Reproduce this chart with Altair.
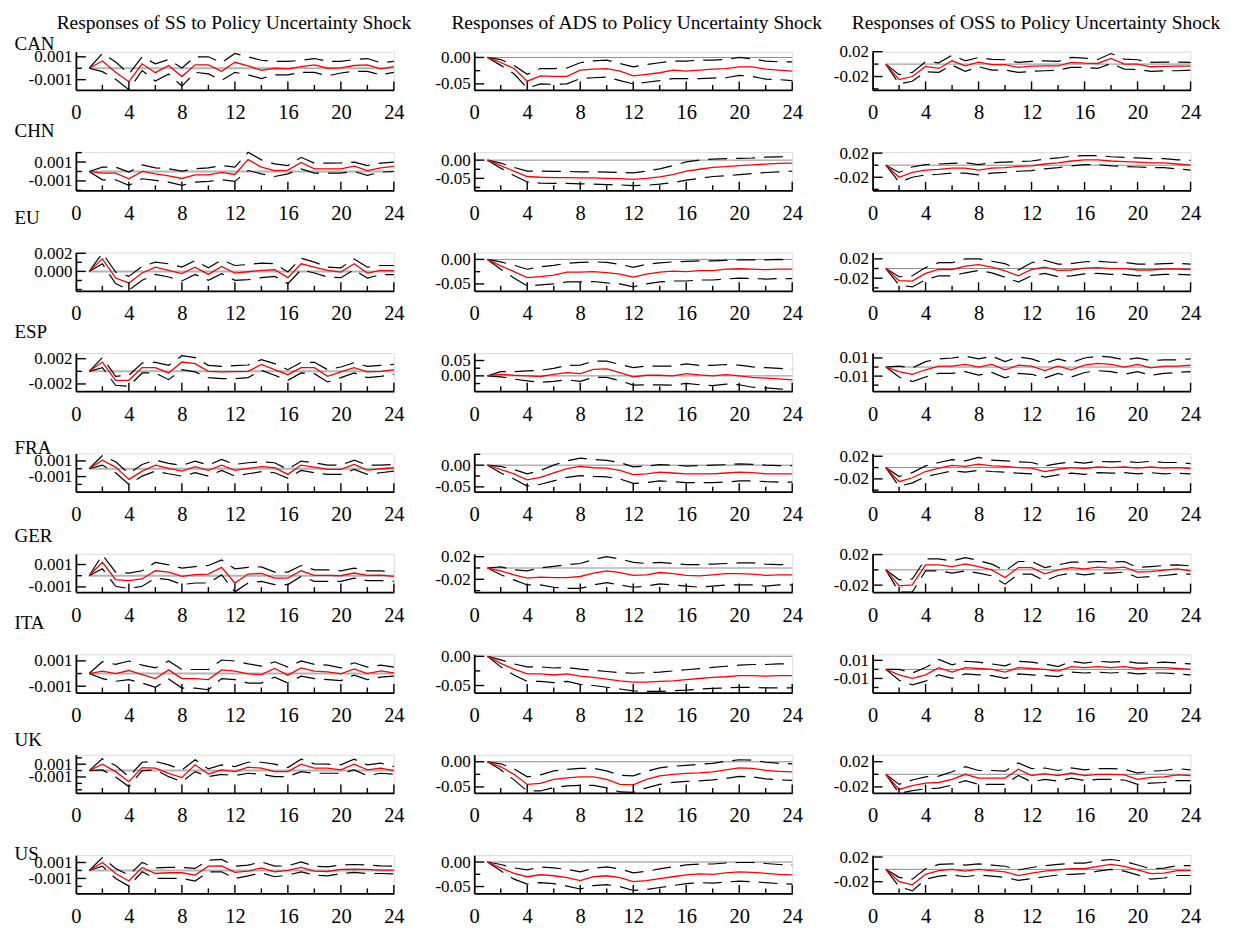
import altair as alt
import pandas as pd

FONT = "Liberation Serif"
HORIZON = list(range(1, 25))
COUNTRIES = ["CAN", "CHN", "EU", "ESP", "FRA", "GER", "ITA", "UK", "US"]
VARIABLES = ["SS", "ADS", "OSS"]
HEADERS = [
    "Responses of SS to Policy Uncertainty Shock",
    "Responses of ADS to Policy Uncertainty Shock",
    "Responses of OSS to Policy Uncertainty Shock",
]
# values below are written in these units (SS in 0.001, ADS and OSS in 0.01)
UNITS = [0.001, 0.01, 0.01]
FORMATS = [".3f", ".2f", ".2f"]

# ---------------- SS responses (x 0.001) ----------------
SS_CAN_IRF = [0, 0.64, -0.36, -1.18, 0.39, -0.39, 0.24, -0.73, 0.3, 0.3, -0.27, 0.52, 0.21, -0.18, 0, -0.06, 0.15, 0.3, 0, 0.03, 0.24, 0.3, -0.06, 0.15]
SS_CAN_UP = [0, 1.3, 0.55, -0.5, 1.0, 0.39, 0.76, 0.03, 1.0, 1.0, 0.48, 1.3, 1.0, 0.7, 0.6, 0.6, 0.7, 0.85, 0.6, 0.6, 0.76, 0.85, 0.48, 0.6]
SS_CAN_LO = [0, -0.3, -0.97, -1.88, -0.2, -1.12, -0.5, -1.58, -0.36, -0.5, -1.06, -0.36, -0.58, -0.9, -0.58, -0.58, -0.36, -0.36, -0.67, -0.42, -0.27, -0.27, -0.58, -0.36]

SS_CHN_IRF = [0, -0.18, -0.18, -0.77, 0, -0.25, -0.46, -0.74, -0.35, -0.35, -0.1, -0.32, 1.26, 0.46, 0.1, 0.14, 0.95, 0.28, 0.28, 0.28, 0.56, 0.1, 0.39, 0.53]
SS_CHN_UP = [0, 0.46, 0.46, -0.07, 0.7, 0.39, 0.28, 0.03, 0.28, 0.39, 0.63, 0.46, 2.03, 1.23, 0.8, 0.63, 1.5, 0.88, 0.88, 0.91, 0.98, 0.63, 0.88, 0.98]
SS_CHN_LO = [0, -0.88, -0.88, -1.47, -0.77, -0.95, -1.12, -1.47, -1.12, -1.05, -0.88, -1.05, 0.1, -0.25, -0.53, -0.25, 0.28, -0.18, -0.18, -0.18, 0, -0.42, -0.07, 0]

SS_EU_IRF = [0, 1.38, -0.73, -1.27, -0.18, 0.47, 0.11, -0.25, 0.47, -0.33, 0.55, -0.18, -0.04, 0.11, 0.18, -0.69, 0.84, 0.47, 0.11, -0.07, 0.84, -0.18, 0.11, 0.07]
SS_EU_UP = [0, 2.0, -0.07, -0.55, 0.55, 1.02, 0.84, 0.47, 1.2, 0.4, 1.27, 0.65, 0.76, 0.91, 0.84, -0.07, 1.45, 1.02, 0.47, 0.4, 1.38, 0.47, 0.65, 0.65]
SS_EU_LO = [0, 0.84, -1.35, -2.07, -0.98, -0.33, -0.62, -1.05, -0.33, -0.98, -0.25, -0.98, -0.91, -0.69, -0.55, -1.35, 0.18, -0.18, -0.62, -0.69, 0.18, -0.73, -0.36, -0.36]

SS_ESP_IRF = [0, 1.47, -1.42, -1.42, 0.58, 0.58, -0.26, 1.47, 1.21, 0, -0.1, -0.05, 0, 1.1, 0.26, -0.53, 0.58, 0.58, -0.79, -0.1, 0.58, -0.1, 0, 0.26]
SS_ESP_UP = [0, 2.16, -0.79, -0.63, 1.32, 1.42, 0.95, 2.47, 2.16, 0.95, 0.79, 0.89, 1.0, 1.84, 1.21, 0.26, 1.42, 1.42, 0.26, 0.68, 1.37, 0.79, 0.95, 1.1]
SS_ESP_LO = [0, 0.58, -2.21, -2.37, -0.26, -0.26, -1.32, 0.26, -0.1, -1.0, -1.16, -1.16, -1.0, 0.16, -0.63, -1.42, -0.26, -0.37, -1.68, -1.0, -0.26, -1.0, -0.79, -0.47]

SS_FRA_IRF = [0, 1.1, 0.21, -1.36, -0.3, 0.47, 0.04, -0.3, 0.26, -0.21, 0.47, -0.21, 0.04, 0.26, 0.13, -0.72, 0.47, 0.21, -0.09, -0.09, 0.55, -0.17, 0, 0.13]
SS_FRA_UP = [0, 1.7, 0.89, -0.6, 0.55, 1.1, 0.68, 0.43, 0.98, 0.47, 1.19, 0.55, 0.77, 0.89, 0.77, -0.09, 0.98, 0.77, 0.47, 0.47, 1.1, 0.47, 0.47, 0.55]
SS_FRA_LO = [0, 0.47, -0.51, -2.0, -0.94, -0.3, -0.64, -0.94, -0.51, -0.94, -0.21, -0.94, -0.64, -0.38, -0.51, -1.23, -0.21, -0.51, -0.72, -0.72, -0.09, -0.72, -0.51, -0.3]

SS_GER_IRF = [0, 1.2, -0.35, -0.44, -0.29, 0.44, 0.32, -0.06, 0.09, 0.15, 0.74, -0.65, 0.15, 0.21, -0.21, -0.21, 0.44, 0.03, 0.03, 0, 0.24, 0.03, 0.06, -0.06]
SS_GER_UP = [0, 1.85, 0.32, 0.24, 0.44, 1.18, 0.97, 0.68, 0.82, 0.91, 1.41, 0.62, 0.74, 0.79, 0.32, 0.32, 0.91, 0.53, 0.53, 0.44, 0.68, 0.44, 0.44, 0.32]
SS_GER_LO = [0, 0.62, -0.94, -1.15, -0.94, -0.21, -0.35, -0.79, -0.65, -0.65, 0.09, -1.44, -0.65, -0.5, -0.79, -0.79, -0.06, -0.5, -0.5, -0.5, -0.21, -0.44, -0.44, -0.5]

SS_ITA_IRF = [0, 0.19, 0, 0.24, -0.08, -0.4, 0.29, -0.4, -0.4, -0.48, 0.29, 0.19, -0.03, -0.08, 0.4, -0.13, 0.45, 0.19, 0.13, -0.03, 0.37, 0, 0.21, 0.05]
SS_ITA_UP = [0, 0.93, 0.72, 0.99, 0.67, 0.45, 0.99, 0.32, 0.32, 0.32, 1.07, 0.99, 0.77, 0.59, 0.93, 0.51, 0.99, 0.72, 0.67, 0.45, 0.85, 0.51, 0.67, 0.51]
SS_ITA_LO = [0, -0.4, -0.61, -0.48, -0.75, -1.09, -0.43, -1.15, -1.15, -1.28, -0.4, -0.48, -0.75, -0.75, -0.29, -0.75, -0.21, -0.4, -0.48, -0.56, -0.13, -0.48, -0.29, -0.21]

SS_UK_IRF = [0, 1.0, -0.16, -1.74, 0.47, 0.37, -0.42, -1.1, 0.9, -0.53, 0.1, -0.16, 0.53, 0.37, -0.16, -0.16, 1.0, 0.37, 0.37, 0.1, 1.0, 0.1, 0.37, 0]
SS_UK_UP = [0, 1.84, 0.79, -0.95, 1.3, 1.42, 0.9, 0.1, 1.68, 0.26, 0.9, 0.63, 1.3, 1.3, 1.0, 0.47, 1.79, 1.05, 1.0, 0.9, 1.79, 0.9, 1.16, 0.63]
SS_UK_LO = [0, 0.1, -1.0, -2.5, 0, 0.1, -0.95, -1.74, -0.16, -0.95, -0.58, -0.79, -0.42, -0.58, -0.95, -0.95, -0.16, -0.42, -0.42, -0.42, 0.1, -0.79, -0.42, -0.58]

SS_US_IRF = [0, 1.0, -0.38, -1.33, 0.38, -0.38, -0.29, -0.29, -0.58, 0.54, 0.58, -0.25, -0.08, 0.33, -0.17, 0, 0.38, -0.08, -0.13, 0.13, 0.17, 0.13, 0.04, 0.04]
SS_US_UP = [0, 1.63, 0.25, -0.58, 1.0, 0.33, 0.38, 0.38, 0.25, 1.29, 1.38, 0.54, 0.67, 1.08, 0.54, 0.58, 1.08, 0.54, 0.46, 0.67, 0.75, 0.67, 0.58, 0.54]
SS_US_LO = [0, 0.54, -1.0, -1.96, -0.17, -1.0, -1.0, -1.0, -1.33, -0.17, -0.17, -1.0, -0.67, -0.29, -0.79, -0.58, -0.17, -0.58, -0.67, -0.38, -0.25, -0.38, -0.38, -0.42]

# ---------------- ADS responses (x 0.01) ----------------
ADS_CAN_IRF = [0, -0.96, -2.1, -4.5, -3.5, -3.6, -3.6, -2.4, -2.2, -2.1, -2.6, -3.5, -3.2, -2.9, -2.4, -2.6, -2.4, -2.2, -2.1, -1.8, -1.8, -2.2, -2.4, -2.6]
ADS_CAN_UP = [0, -0.4, -1.5, -3.2, -2.1, -2.1, -2.0, -1.0, -0.64, -0.5, -1.15, -1.8, -1.35, -1.0, -0.7, -0.7, -0.5, -0.5, -0.4, 0, -0.26, -0.7, -0.83, -0.83]
ADS_CAN_LO = [0, -1.5, -3.1, -5.8, -5.0, -5.1, -5.0, -4.0, -3.85, -3.7, -4.4, -5.0, -4.7, -4.4, -4.0, -4.0, -4.0, -3.9, -3.85, -3.4, -3.6, -4.1, -4.2, -4.4]

ADS_CHN_IRF = [0, -1.5, -3.0, -4.5, -4.7, -4.8, -4.8, -4.9, -4.9, -5.0, -5.1, -5.3, -5.0, -4.6, -4.0, -3.0, -2.5, -2.0, -1.8, -1.5, -1.3, -1.1, -0.9, -0.8]
ADS_CHN_UP = [0, -0.8, -2.0, -3.0, -3.0, -3.1, -3.1, -3.2, -3.2, -3.3, -3.4, -3.5, -3.0, -2.4, -1.5, -0.5, 0.0, 0.3, 0.4, 0.5, 0.6, 0.8, 0.9, 1.0]
ADS_CHN_LO = [0, -2.2, -4.2, -6.0, -6.3, -6.4, -6.4, -6.5, -6.6, -6.7, -6.8, -7.0, -6.9, -6.6, -6.2, -5.5, -5.0, -4.5, -4.3, -4.0, -3.7, -3.4, -3.2, -3.0]

ADS_EU_IRF = [0, -1.3, -2.5, -3.7, -3.5, -3.2, -2.6, -2.6, -2.5, -2.7, -3.0, -3.6, -3.0, -2.6, -2.4, -2.5, -2.3, -2.3, -2.0, -1.9, -2.0, -2.1, -2.0, -2.0]
ADS_EU_UP = [0, -0.5, -1.2, -2.0, -1.5, -1.2, -0.8, -0.6, -0.5, -0.6, -1.0, -1.6, -1.0, -0.7, -0.5, -0.4, -0.3, -0.3, -0.2, -0.1, -0.1, -0.1, 0.0, -0.1]
ADS_EU_LO = [0, -2.0, -3.8, -5.4, -5.2, -5.0, -4.6, -4.6, -4.5, -4.8, -5.0, -5.6, -5.0, -4.6, -4.4, -4.4, -4.2, -4.2, -4.0, -3.8, -3.9, -4.0, -3.9, -3.9]

ADS_ESP_IRF = [0, 0.5, 0.2, 0, -0.2, 0.5, 1.06, 0.74, 2.1, 2.3, 1.06, -0.3, 0.2, 0.2, 0, 0.74, 0.3, 0, 0.4, 0, -0.5, -0.74, -0.96, -1.28]
ADS_ESP_UP = [0, 1.4, 1.4, 1.6, 1.8, 2.45, 3.4, 3.5, 4.8, 4.8, 3.7, 2.66, 3.2, 3.2, 3.2, 3.9, 3.4, 3.4, 3.7, 3.5, 2.9, 2.66, 2.45, 2.1]
ADS_ESP_LO = [0, -0.3, -1.06, -1.6, -2.1, -1.8, -1.28, -1.8, -0.5, -0.5, -1.6, -3.0, -2.9, -2.9, -3.0, -2.45, -2.9, -3.2, -2.66, -2.9, -3.7, -3.9, -4.25, -4.6]

ADS_FRA_IRF = [0, -1.0, -2.0, -3.4, -2.8, -1.8, -0.8, -0.3, -0.6, -0.7, -1.2, -2.2, -2.0, -1.6, -1.8, -2.0, -2.0, -2.0, -1.8, -1.6, -1.7, -2.0, -2.0, -2.0]
ADS_FRA_UP = [0, -0.3, -1.0, -2.0, -1.2, 0.0, 1.0, 1.6, 1.3, 1.1, 0.6, -0.4, -0.2, 0.1, 0.0, -0.2, -0.1, 0.0, 0.1, 0.3, 0.2, 0.0, -0.1, -0.1]
ADS_FRA_LO = [0, -1.8, -3.2, -4.8, -4.4, -3.6, -2.8, -2.4, -2.6, -2.7, -3.2, -4.2, -4.0, -3.6, -3.8, -4.0, -4.0, -4.0, -3.9, -3.6, -3.6, -3.8, -3.9, -3.9]

ADS_GER_IRF = [0, -0.5, -1.2, -1.8, -1.6, -1.7, -1.7, -1.5, -0.9, -0.5, -0.8, -1.3, -1.2, -0.8, -1.0, -1.3, -1.4, -1.2, -1.0, -1.0, -1.1, -1.3, -1.2, -1.2]
ADS_GER_UP = [0, 0.2, -0.3, -0.5, 0.0, 0.3, 0.6, 0.8, 1.5, 2.0, 1.6, 1.0, 0.8, 1.0, 0.8, 0.6, 0.6, 0.7, 0.8, 0.9, 0.9, 0.7, 0.6, 0.6]
ADS_GER_LO = [0, -1.2, -2.1, -3.0, -3.0, -3.4, -3.6, -3.6, -3.0, -2.6, -3.0, -3.4, -3.2, -2.8, -3.0, -3.2, -3.4, -3.2, -3.0, -3.0, -3.0, -3.2, -3.0, -3.0]

ADS_ITA_IRF = [0, -1.2, -2.2, -3.0, -3.0, -3.2, -3.0, -3.4, -3.6, -3.9, -4.2, -4.4, -4.4, -4.3, -4.2, -4.0, -3.8, -3.6, -3.5, -3.3, -3.3, -3.4, -3.3, -3.3]
ADS_ITA_UP = [0, -0.6, -1.3, -1.8, -1.8, -2.0, -1.9, -2.2, -2.4, -2.6, -2.8, -2.9, -2.8, -2.7, -2.5, -2.3, -2.1, -1.9, -1.7, -1.5, -1.4, -1.4, -1.3, -1.3]
ADS_ITA_LO = [0, -1.8, -3.2, -4.3, -4.3, -4.5, -4.3, -4.8, -5.0, -5.3, -5.6, -5.9, -6.0, -6.0, -5.9, -5.8, -5.6, -5.5, -5.4, -5.3, -5.3, -5.4, -5.4, -5.4]

ADS_UK_IRF = [0, -1.0, -2.5, -4.5, -4.3, -3.5, -3.2, -3.0, -3.0, -3.5, -4.5, -4.6, -3.5, -2.8, -2.5, -2.3, -2.2, -2.0, -1.6, -1.2, -1.3, -1.7, -1.9, -2.0]
ADS_UK_UP = [0, -0.4, -1.4, -3.0, -2.6, -1.8, -1.5, -1.3, -1.3, -1.8, -2.7, -2.8, -1.9, -1.2, -0.9, -0.7, -0.5, -0.3, 0.1, 0.4, 0.3, -0.1, -0.3, -0.4]
ADS_UK_LO = [0, -1.6, -3.6, -5.8, -5.8, -5.1, -4.8, -4.7, -4.7, -5.2, -6.0, -6.1, -5.2, -4.5, -4.1, -3.9, -3.8, -3.6, -3.3, -2.9, -3.0, -3.4, -3.6, -3.7]

ADS_US_IRF = [0, -1.2, -2.3, -3.0, -2.6, -2.8, -3.2, -3.8, -3.0, -2.8, -3.2, -4.0, -3.8, -3.4, -3.0, -2.6, -2.4, -2.5, -2.2, -2.0, -2.1, -2.3, -2.5, -2.6]
ADS_US_UP = [0, -0.5, -1.2, -1.6, -1.0, -1.2, -1.5, -2.0, -1.3, -1.0, -1.4, -2.2, -1.9, -1.4, -1.0, -0.6, -0.4, -0.4, -0.2, -0.1, -0.1, -0.3, -0.5, -0.6]
ADS_US_LO = [0, -1.8, -3.5, -4.5, -4.2, -4.4, -4.9, -5.5, -4.8, -4.6, -5.0, -5.8, -5.6, -5.2, -4.8, -4.4, -4.2, -4.3, -4.1, -3.9, -4.0, -4.2, -4.4, -4.5]

# ---------------- OSS responses (x 0.01) ----------------
OSS_CAN_IRF = [0, -2.5, -2.0, -0.37, -0.7, 0.53, -0.27, 0.32, -0.1, -0.1, -0.53, -0.32, -0.27, -0.27, 0.27, 0.16, 0.1, 0.9, 0, 0, -0.43, -0.37, -0.32, -0.32]
OSS_CAN_UP = [0, -1.7, -1.33, 0.37, 0.21, 1.44, 0.53, 1.07, 0.75, 0.7, 0.27, 0.43, 0.53, 0.43, 1.07, 0.96, 0.75, 1.7, 0.8, 0.7, 0.27, 0.32, 0.32, 0.27]
OSS_CAN_LO = [0, -3.2, -2.77, -1.23, -1.33, -0.16, -1.17, -0.43, -0.96, -0.96, -1.33, -1.17, -1.07, -0.96, -0.53, -0.53, -0.7, 0.1, -0.8, -0.85, -1.17, -1.07, -1.07, -0.96]

OSS_CHN_IRF = [0, -2.0, -1.2, -0.8, -0.7, -0.5, -0.5, -0.8, -0.5, -0.4, -0.2, -0.1, 0.2, 0.4, 0.7, 0.9, 0.9, 0.7, 0.6, 0.5, 0.4, 0.4, 0.2, 0.0]
OSS_CHN_UP = [0, -1.2, -0.3, 0.1, 0.2, 0.3, 0.4, 0.1, 0.4, 0.5, 0.6, 0.7, 1.0, 1.2, 1.5, 1.6, 1.6, 1.4, 1.3, 1.2, 1.1, 1.1, 0.9, 0.8]
OSS_CHN_LO = [0, -2.8, -2.0, -1.6, -1.5, -1.3, -1.3, -1.6, -1.3, -1.2, -1.0, -0.9, -0.6, -0.4, -0.1, 0.1, 0.1, -0.1, -0.2, -0.3, -0.4, -0.4, -0.6, -0.8]

OSS_EU_IRF = [0, -2.5, -2.6, -1.0, -0.2, -0.2, 0.5, 0.8, 0.3, -0.5, -1.5, -0.2, 0.3, -0.4, -0.3, 0.1, 0.2, 0.0, 0.0, -0.3, -0.3, -0.1, -0.1, -0.2]
OSS_EU_UP = [0, -1.7, -1.5, 0.2, 1.2, 1.2, 2.0, 2.0, 1.5, 1.0, -0.3, 1.2, 1.7, 0.9, 1.0, 1.4, 1.5, 1.3, 1.3, 0.9, 0.9, 1.0, 1.1, 0.9]
OSS_EU_LO = [0, -3.4, -3.8, -2.3, -1.5, -1.5, -0.9, -0.4, -0.9, -1.8, -2.8, -1.5, -1.0, -1.7, -1.5, -1.1, -1.0, -1.2, -1.2, -1.5, -1.4, -1.2, -1.2, -1.3]

OSS_ESP_IRF = [0, -0.5, -0.8, -0.3, 0.1, 0.1, 0.3, 0.0, 0.3, -0.3, 0.2, 0.1, -0.4, 0.1, -0.3, 0.2, 0.4, 0.3, 0.0, 0.3, -0.1, 0.1, 0.1, 0.2]
OSS_ESP_UP = [0, 0.1, -0.1, 0.6, 0.9, 1.0, 1.2, 0.9, 1.2, 0.6, 1.1, 0.9, 0.4, 0.9, 0.5, 1.0, 1.2, 1.1, 0.8, 1.0, 0.7, 0.8, 0.8, 0.9]
OSS_ESP_LO = [0, -1.1, -1.6, -1.1, -0.7, -0.7, -0.5, -0.9, -0.6, -1.2, -0.7, -0.8, -1.2, -0.7, -1.1, -0.6, -0.4, -0.5, -0.8, -0.5, -0.9, -0.7, -0.6, -0.5]

OSS_FRA_IRF = [0, -2.5, -1.8, -0.7, -0.1, 0.4, 0.2, 0.6, 0.3, 0.2, 0.0, -0.1, -0.7, -0.3, 0.0, -0.2, 0.1, 0.0, 0.1, -0.1, 0.1, -0.1, 0.0, -0.2]
OSS_FRA_UP = [0, -1.6, -0.9, 0.3, 0.9, 1.4, 1.2, 1.8, 1.3, 1.2, 1.0, 0.9, 0.3, 0.7, 1.0, 0.8, 1.1, 1.0, 1.1, 0.9, 1.1, 0.9, 0.9, 0.7]
OSS_FRA_LO = [0, -3.3, -2.7, -1.6, -1.1, -0.6, -0.8, -0.5, -0.7, -0.8, -1.0, -1.1, -1.7, -1.3, -1.0, -1.2, -0.9, -1.0, -0.9, -1.1, -0.9, -1.1, -1.0, -1.1]

OSS_GER_IRF = [0, -2.1, -1.96, 0.65, 0.65, 0.43, 0.78, 0.43, 0, -1.0, 0.3, 0.3, -0.52, 0, 0.3, 0.13, 0.35, 0.22, 0.35, -0.3, -0.22, -0.04, 0.13, -0.13]
OSS_GER_UP = [0, -1.3, -1.2, 1.43, 1.43, 1.17, 1.6, 1.22, 0.74, -0.13, 1.09, 1.09, 0.3, 0.65, 1.0, 1.0, 1.09, 1.0, 1.09, 0.3, 0.43, 0.57, 0.65, 0.52]
OSS_GER_LO = [0, -2.9, -2.9, -0.13, -0.13, -0.43, -0.13, -0.43, -0.78, -1.87, -0.57, -0.57, -1.43, -0.74, -0.43, -0.65, -0.43, -0.43, -0.3, -1.0, -0.87, -0.74, -0.57, -0.57]

OSS_ITA_IRF = [0, -0.6, -1.0, -0.6, 0.2, -0.3, 0.2, 0.1, 0.0, -0.3, 0.2, 0.1, 0.0, -0.2, 0.3, 0.2, 0.3, 0.2, 0.3, 0.1, 0.2, 0.2, 0.1, 0.0]
OSS_ITA_UP = [0, 0.0, -0.4, 0.2, 1.1, 0.5, 0.9, 0.8, 0.6, 0.4, 0.9, 0.8, 0.6, 0.3, 0.9, 0.7, 0.9, 0.8, 0.9, 0.7, 0.7, 0.8, 0.7, 0.6]
OSS_ITA_LO = [0, -1.2, -1.7, -1.3, -0.6, -1.0, -0.5, -0.6, -0.7, -1.0, -0.5, -0.6, -0.7, -0.8, -0.3, -0.4, -0.3, -0.4, -0.3, -0.5, -0.4, -0.4, -0.5, -0.6]

OSS_UK_IRF = [0, -2.4, -1.8, -1.4, -1.3, -0.8, 0.0, -0.6, -0.6, -0.6, 0.8, -0.2, 0.1, -0.2, 0.2, -0.2, 0.0, 0.0, -0.1, -0.8, -0.5, -0.4, -0.1, -0.2]
OSS_UK_UP = [0, -1.6, -0.9, -0.4, -0.3, 0.4, 1.2, 0.6, 0.6, 0.5, 1.8, 0.9, 1.0, 0.6, 1.0, 0.7, 0.9, 0.9, 0.8, 0.2, 0.5, 0.6, 0.9, 0.7]
OSS_UK_LO = [0, -3.0, -2.6, -2.3, -2.2, -1.7, -1.0, -1.6, -1.6, -1.6, -0.2, -1.2, -0.8, -1.1, -0.6, -1.0, -0.8, -0.8, -0.9, -1.6, -1.4, -1.3, -1.0, -1.0]

OSS_US_IRF = [0, -2.0, -2.5, -0.8, -0.2, 0.0, -0.3, 0.0, -0.2, -0.4, -1.0, -0.6, -0.3, -0.1, 0.1, 0.1, 0.5, 0.8, 0.5, -0.1, -0.7, -0.6, -0.2, -0.2]
OSS_US_UP = [0, -1.3, -1.6, 0.1, 0.8, 0.9, 0.7, 0.9, 0.7, 0.5, -0.1, 0.3, 0.6, 0.8, 1.0, 1.0, 1.4, 1.6, 1.3, 0.7, 0.1, 0.2, 0.6, 0.6]
OSS_US_LO = [0, -2.8, -3.5, -1.6, -1.1, -0.9, -1.2, -0.9, -1.1, -1.3, -1.8, -1.5, -1.2, -0.9, -0.8, -0.7, -0.3, 0.0, -0.3, -0.9, -1.6, -1.4, -1.0, -1.0]

# ---------------- axis settings (same units as above) ----------------
Y_DOMAIN = {
    "SS": [[-1.9, 1.45], [-2.0, 2.05], [-2.14, 2.08], [-3.15, 2.9], [-2.93, 1.96], [-1.46, 1.95], [-1.5, 1.52], [-3.5, 2.48], [-2.88, 1.92]],
    "ADS": [[-6.15, 1.09], [-8.3, 2.2], [-6.4, 1.4], [-5.0, 7.45], [-6.1, 2.7], [-4.26, 2.5], [-6.2, 0.35], [-6.2, 1.4], [-6.4, 1.4]],
    "OSS": [[-4.16, 2.0], [-4.17, 2.17], [-4.6, 3.3], [-2.67, 1.55], [-4.26, 2.5], [-2.91, 2.09], [-2.56, 1.67], [-2.96, 3.1], [-3.9, 2.3]],
}
Y_LABELS = {
    "SS": [[1, -1], [1, -1], [2, 0], [2, -2], [1, -1], [1, -1], [1, -1], [1, -1], [1, -1]],
    "ADS": [[0, -5], [0, -5], [0, -5], [5, 0], [0, -5], [2, -2], [0, -5], [0, -5], [0, -5]],
    "OSS": [[2, -2], [2, -2], [2, -2], [1, -1], [2, -2], [2, -2], [1, -1], [2, -2], [2, -2]],
}
Y_MINOR = {
    "SS": [[0], [0, 2, -2], [1, -1, -2], [0], [0, -2], [0], [0], [0, 2, -2, -3], [0, -2]],
    "ADS": [[-2.5], [-2.5, -7.5], [-2.5], [2.5, -2.5], [2.5, -2.5], [0, -4], [-2.5], [-2.5], [-2.5]],
    "OSS": [[0, -4], [0, -4], [0, -4], [0, -2], [0, -4], [0], [0, -2], [0], [0]],
}
X_LABELS = [0, 4, 8, 12, 16, 20, 24]
X_TICKS = list(range(2, 25, 2))

# ---------------- layout / style ----------------
W = 318.5
HT = 38.3
COUNTRY_Y = [-2, -15.7, -28.7, -15.7, 0, -12.3, -26.3, -9.3, 4.7]
HEADER_DX = [-1.5, 3, 4]
ZERO_COLOR = ["#b4b4b4", "#8c8c8c", "#8c8c8c"]
ZERO_WIDTH = [2.0, 1.0, 1.0]
DASH = [19, 9]


def panel(ci, ri):
    var = VARIABLES[ci]
    cty = COUNTRIES[ri]
    u = UNITS[ci]
    irf = globals()[f"{var}_{cty}_IRF"]
    up = globals()[f"{var}_{cty}_UP"]
    lo = globals()[f"{var}_{cty}_LO"]
    df = pd.DataFrame({
        "h": HORIZON,
        "irf": [v * u for v in irf],
        "up": [v * u for v in up],
        "lo": [v * u for v in lo],
    })
    d0, d1 = [d * u for d in Y_DOMAIN[var][ri]]
    span = d1 - d0
    xs = alt.Scale(domain=[0, 24], nice=False, zero=False)
    ys = alt.Scale(domain=[d0, d1], nice=False, zero=False)

    layers = []
    zdf = pd.DataFrame({"a": [1], "b": [24], "y": [0.0]})
    layers.append(
        alt.Chart(zdf).mark_rule(color=ZERO_COLOR[ci], strokeWidth=ZERO_WIDTH[ci]).encode(
            x=alt.X("a:Q", scale=xs, axis=None), x2="b:Q",
            y=alt.Y("y:Q", scale=ys, axis=None))
    )
    for band in ("up", "lo"):
        layers.append(
            alt.Chart(df).mark_line(color="black", strokeWidth=1.2, strokeDash=DASH).encode(
                x=alt.X("h:Q", scale=xs, axis=None),
                y=alt.Y(f"{band}:Q", scale=ys, axis=None))
        )
    xaxis = alt.Axis(orient="bottom", values=X_LABELS, format="d", ticks=False, grid=False,
                     domainColor="black", domainWidth=1.8, labelFont=FONT, labelFontSize=20.5,
                     labelColor="black", labelPadding=23, labelBaseline="middle",
                     labelFlush=False, labelOverlap=False, title=None)
    yaxis = alt.Axis(orient="left", values=[m * u for m in Y_LABELS[var][ri]], format=FORMATS[ci],
                     labelExpr="replace(datum.label, '\u2212', '-')",
                     ticks=False, grid=False, domainColor="black", domainWidth=1.8,
                     labelFont=FONT, labelFontSize=17, labelColor="black", labelPadding=4,
                     labelBaseline="middle", labelFlush=False, labelOverlap=False, title=None)
    layers.append(
        alt.Chart(df).mark_line(color="#ff0000", strokeWidth=1.3).encode(
            x=alt.X("h:Q", scale=xs, axis=xaxis),
            y=alt.Y("irf:Q", scale=ys, axis=yaxis))
    )
    # inward tick marks on the bottom axis
    xt = pd.DataFrame({"t": X_TICKS})
    xt["y0"] = d0
    xt["y1"] = [d0 + (8.5 if t % 4 == 0 else 5.0) / HT * span for t in X_TICKS]
    layers.append(
        alt.Chart(xt).mark_rule(color="black", strokeWidth=1.4).encode(
            x=alt.X("t:Q", scale=xs, axis=None),
            y=alt.Y("y0:Q", scale=ys, axis=None), y2="y1:Q")
    )
    # inward tick marks on the left axis
    majors = [m * u for m in Y_LABELS[var][ri]]
    minors = [m * u for m in Y_MINOR[var][ri] if d0 <= m * u <= d1]
    yt = pd.DataFrame({
        "v": majors + minors,
        "x0": [0.0] * (len(majors) + len(minors)),
        "x1": [10.0 / W * 24] * len(majors) + [6.0 / W * 24] * len(minors),
    })
    layers.append(
        alt.Chart(yt).mark_rule(color="black", strokeWidth=1.4).encode(
            x=alt.X("x0:Q", scale=xs, axis=None), x2="x1:Q",
            y=alt.Y("v:Q", scale=ys, axis=None))
    )
    if ri == 0:
        layers.append(
            alt.Chart(df).mark_line(opacity=0).encode(
                x=alt.X("h:Q", scale=xs, axis=alt.Axis(
                    orient="top", title=HEADERS[ci], labels=False, ticks=False, domain=False,
                    grid=False, titleFont=FONT, titleFontSize=19.5, titleFontWeight="normal",
                    titleColor="black", titleX=W / 2 + HEADER_DX[ci], titleY=-23.7,
                    titleAlign="center", titleBaseline="alphabetic")),
                y=alt.Y("irf:Q", scale=ys, axis=None))
        )
    if ci == 0:
        layers.append(
            alt.Chart(df).mark_line(opacity=0).encode(
                x=alt.X("h:Q", scale=xs, axis=None),
                y=alt.Y("irf:Q", scale=ys, axis=alt.Axis(
                    orient="right", title=cty, titleAngle=0, labels=False, ticks=False,
                    domain=False, grid=False, titleFont=FONT, titleFontSize=19,
                    titleFontWeight="normal", titleColor="black", titleX=-(W + 62),
                    titleY=COUNTRY_Y[ri], titleAlign="left", titleBaseline="alphabetic")))
        )
    return alt.layer(*layers).resolve_axis(x="independent", y="independent").properties(
        width=W, height=HT)


panels = [panel(ci, ri) for ri in range(len(COUNTRIES)) for ci in range(len(VARIABLES))]

chart = alt.concat(
    *panels, columns=3, spacing={"row": 61.6, "column": 80}, bounds="flush"
).properties(
    padding={"left": 5, "top": 2, "right": 5, "bottom": 0}
).configure_view(stroke=None).configure(background="white")

chart.save("out.html", embed_options={"renderer": "svg", "actions": False})
